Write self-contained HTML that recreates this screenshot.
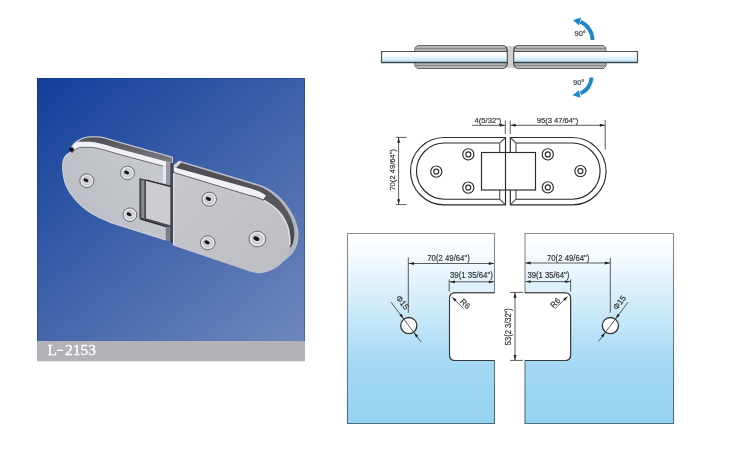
<!DOCTYPE html>
<html><head><meta charset="utf-8">
<style>
html,body{margin:0;padding:0;background:#fff;}
body{width:730px;height:450px;overflow:hidden;}
svg{display:block;will-change:transform;}
text{font-family:"Liberation Sans",sans-serif;}
</style></head>
<body>
<svg width="730" height="450" viewBox="0 0 730 450">
<defs>
<linearGradient id="bg" x1="37" y1="78" x2="274" y2="366" gradientUnits="userSpaceOnUse">
  <stop offset="0" stop-color="#103f9a"/>
  <stop offset="1" stop-color="#7087bc"/>
</linearGradient>
<linearGradient id="glass" x1="0" y1="0" x2="0" y2="1">
  <stop offset="0" stop-color="#ffffff"/>
  <stop offset="0.35" stop-color="#f8fcfe"/>
  <stop offset="1" stop-color="#bde1f1"/>
</linearGradient>
<linearGradient id="pane" x1="0" y1="233" x2="0" y2="424" gradientUnits="userSpaceOnUse">
  <stop offset="0" stop-color="#ffffff"/>
  <stop offset="0.115" stop-color="#f6fbfe"/>
  <stop offset="0.325" stop-color="#d8eefa"/>
  <stop offset="0.69" stop-color="#a3d9f4"/>
  <stop offset="1" stop-color="#95d2f2"/>
</linearGradient>
<linearGradient id="rimL" x1="0" y1="0" x2="0" y2="1">
  <stop offset="0" stop-color="#4e4e54"/>
  <stop offset="1" stop-color="#8c8c92"/>
</linearGradient>
<linearGradient id="rimR" x1="0" y1="0" x2="0" y2="1">
  <stop offset="0" stop-color="#4c4c52"/>
  <stop offset="0.6" stop-color="#5a5a60"/>
  <stop offset="1" stop-color="#3a3b42"/>
</linearGradient>
<linearGradient id="faceL" x1="166" y1="160" x2="70" y2="225" gradientUnits="userSpaceOnUse">
  <stop offset="0" stop-color="#c8cacf"/>
  <stop offset="1" stop-color="#babdc3"/>
</linearGradient>
<linearGradient id="faceR" x1="180" y1="175" x2="280" y2="270" gradientUnits="userSpaceOnUse">
  <stop offset="0" stop-color="#c6c8cd"/>
  <stop offset="1" stop-color="#bcbec4"/>
</linearGradient>
<linearGradient id="edge" x1="0" y1="233" x2="0" y2="424" gradientUnits="userSpaceOnUse">
  <stop offset="0" stop-color="#8e8e8e"/>
  <stop offset="1" stop-color="#4f6b80"/>
</linearGradient>
</defs>

<!-- ============ PHOTO ============ -->
<rect x="37" y="78" width="268" height="263" fill="url(#bg)"/>
<rect x="37" y="341" width="268" height="20.3" fill="#b2b3b6"/>
<path d="M37.5,341 L37.5,78.5 L304.5,78.5 L304.5,341" fill="none" stroke="#0c2a70" stroke-opacity="0.35" stroke-width="1"/>
<g style="font-family:'Liberation Serif',serif" font-size="15.5" fill="#fff" stroke="#fff" stroke-width="0.35">
  <text x="47.5" y="355" style="font-family:'Liberation Serif',serif">L</text>
  <text x="64.9" y="355" style="font-family:'Liberation Serif',serif">2153</text>
</g>
<rect x="57" y="349.6" width="6.3" height="1.3" fill="#fff"/>

<g id="hinge">
  <!-- LEFT PLATE -->
  <path d="M69.8,151.5 C70.5,147 72.5,144 74.9,142.3 C77,140.5 79,139 81.4,138.2 C84,137 87,136.4 89.7,136.2 L97.9,136.2 C101,136.5 103.5,137 106.1,137.8 C109,138.7 111.5,139.4 114.3,140.3 L173,156.8 L173,189 L166,189 L166,170 Z" fill="#c6c8d0"/>
  <path d="M78,142.5 C79,141 80.5,140 81.8,139.3 C84.3,138.2 87,137.6 89.7,137.4 L97.9,137.4 C101,137.7 103.5,138.2 106,139 C109,139.9 111.5,140.6 114.3,141.5 L172,157.8 L172,170 L166,170 Z" fill="url(#rimL)"/>
  <path d="M166,161 L172,162.6 L172,189 L166,189 Z" fill="#9a9ca4"/>
  <path d="M71.5,152 C72,148 73,145 74.5,143.5 C76.5,142.3 79,141.8 81.4,141.8 L89.7,141.8 C93,141.9 95.5,142.3 97.9,143 C101,143.8 103.5,144.4 106.1,145 L114.3,147.5 L166,161.5 L166,169 L114.3,153 L72,153 Z" fill="#f0f1f5"/>
  <path d="M72,153 C74,149.8 77,148 81.4,147.3 L89.7,147.3 C93,147.4 95.5,147.8 97.9,148.5 C101,149.2 103.5,149.8 106.1,150.5 L114.3,153 L166,167 L166,240.3 L115,223.9 C114.2,223.6 112.3,223.1 110.0,222.2 C107.7,221.3 104.1,219.7 101.1,218.3 C98.1,216.9 95.0,215.6 92.2,213.9 C89.4,212.2 86.8,210.2 84.4,208.3 C82.0,206.4 79.8,204.3 77.8,202.2 C75.8,200.1 73.9,197.8 72.2,195.6 C70.5,193.4 69.1,191.3 67.8,188.9 C66.5,186.5 65.4,183.7 64.6,181.0 C63.8,178.3 63.3,174.9 63.0,172.5 C62.7,170.1 62.6,168.5 62.6,166.5 C62.6,164.5 62.8,162.3 63.3,160.5 C63.8,158.7 64.6,156.9 65.8,155.5 C67.0,154.1 69.7,152.6 70.5,152.0 Z" fill="url(#faceL)"/>
  <path d="M72,153 C74,149.8 77,148 81.4,147.3 L89.7,147.3 C93,147.4 95.5,147.8 97.9,148.5 C101,149.2 103.5,149.8 106.1,150.5 L114.3,153 L166,167" fill="none" stroke="#5e5e66" stroke-width="0.9"/>
  <path d="M70.5,152.0 C69.7,152.6 67.0,154.1 65.8,155.5 C64.6,156.9 63.8,158.7 63.3,160.5 C62.8,162.3 62.6,164.5 62.6,166.5 C62.6,168.5 62.7,170.1 63.0,172.5 C63.3,174.9 63.8,178.3 64.6,181.0 C65.4,183.7 66.5,186.5 67.8,188.9 C69.1,191.3 70.5,193.4 72.2,195.6 C73.9,197.8 75.8,200.1 77.8,202.2 C79.8,204.3 82.0,206.4 84.4,208.3 C86.8,210.2 89.4,212.2 92.2,213.9 C95.0,215.6 98.1,216.9 101.1,218.3 C104.1,219.7 107.7,221.3 110.0,222.2 C112.3,223.1 114.2,223.6 115.0,223.9 L166,240" fill="none" stroke="#d0d2d7" stroke-width="1.1"/>
  <circle cx="71.6" cy="149.6" r="2.3" fill="#111"/>
  <!-- knuckle recess -->
  <path d="M139.3,177.9 L171,185.8 L171,227 L167.5,226 L139.3,218.3 Z" fill="#4a4b52"/>
  <path d="M141.3,180 L144.2,180.7 L144.2,218.5 L141.3,217.8 Z" fill="#8a8c93"/>
  <path d="M146,180.2 L171,186.6 L171,225.6 L146,218.2 Z" fill="#cbcdd2"/>
  <path d="M146,180.2 L171,186.6" stroke="#2a2b30" stroke-width="1.3" fill="none"/>
  <path d="M140,218.8 L168,227" stroke="#2a2b30" stroke-width="1.5" fill="none"/>
  <path d="M165.8,226.3 L171,227.5 L171,241.5 L165.8,240.3 Z" fill="#7d7f86"/>
  <path d="M163,165.5 L166,166.5 L166,183 L163,182.2 Z" fill="#e8e9ec"/>
  <line x1="171.2" y1="165" x2="171.2" y2="241" stroke="#3e3f45" stroke-width="1"/>
  <rect x="170.5" y="163" width="3.8" height="80" fill="#44454c"/>
  <!-- RIGHT PLATE -->
  <path d="M179.4,161.1 L250.0,182.3 C252.2,183.0 258.8,184.7 263.0,186.6 C267.2,188.5 271.3,190.7 275.0,193.5 C278.7,196.3 282.1,199.9 285.0,203.5 C287.9,207.1 290.5,211.2 292.5,215.0 C294.5,218.8 295.9,222.7 296.8,226.0 C297.7,229.3 298.1,231.8 298.0,235.0 C297.9,238.2 297.4,242.1 296.5,245.0 C295.6,247.9 294.0,250.3 292.5,252.5 C291.0,254.7 288.3,257.1 287.5,258.0 L279,264 L272,228 L174,171 L174,165 Z" fill="#b4b6be" stroke="#c8cad2" stroke-width="0.8"/>
  <path d="M179.5,162.2 L250.0,183.5 C252.0,184.2 258.2,185.8 262.0,187.6 C265.8,189.4 269.6,191.8 273.0,194.5 C276.4,197.2 279.8,200.6 282.5,204.0 C285.2,207.4 287.7,211.3 289.5,215.0 C291.3,218.7 292.7,222.7 293.5,226.0 C294.3,229.3 294.4,232.2 294.3,235.0 C294.2,237.8 293.2,241.7 293.0,243.0 C292,246 290,248 288,249 L272,228 L174,171 Z" fill="url(#rimR)"/>
  <path d="M173.5,166 L178.8,160.8 L181.5,162.5 L176,168 Z" fill="#d0d2d8"/>
  <path d="M174,167.2 L250,188.3 C256,190 262,192.5 266,195.5 L263,199.5 C258,197 254,196 250,195.6 L174,172.8 Z" fill="#f0f1f5"/>
  <path d="M174,172.5 L250.0,195.6 C252.0,196.2 258.3,197.5 262.0,199.2 C265.7,200.8 268.9,203.1 272.0,205.5 C275.1,207.9 278.1,210.4 280.5,213.5 C282.9,216.6 285.0,220.4 286.5,224.0 C288.0,227.6 288.9,231.5 289.5,235.0 C290.1,238.5 290.5,241.7 290.2,245.0 C289.9,248.3 288.9,251.9 287.5,255.0 C286.1,258.1 283.9,261.1 281.5,263.5 C279.1,265.9 276.1,267.9 273.0,269.5 C269.9,271.1 265.9,272.2 263.0,272.8 C260.1,273.4 258.1,273.1 255.9,272.9 C253.7,272.7 251.0,271.8 250.0,271.6 L173,245.5 L173,175 C173,173.5 173.4,172.8 174,172.5 Z" fill="url(#faceR)"/>
  <path d="M174,172.5 L250,195.6 C256,197 261,199 264,200.5" fill="none" stroke="#5e5e66" stroke-width="0.9"/>
  <path d="M264.0,200.3 C265.7,201.4 271.0,204.5 274.0,207.0 C277.0,209.5 279.8,212.3 282.0,215.5 C284.2,218.7 286.2,222.6 287.5,226.0 C288.8,229.4 289.2,232.8 289.6,236.0 C290.0,239.2 289.8,243.5 289.8,245.0" fill="none" stroke="#e6e7ea" stroke-width="1.4"/>
  <line x1="173.6" y1="173" x2="173.6" y2="245" stroke="#dfe0e4" stroke-width="1.2"/>

  <!-- screws -->
  <g stroke="#5a5c62" stroke-width="0.9" fill="#e6e7ea">
    <ellipse cx="86.8" cy="180.7" rx="7" ry="6.8"/>
    <ellipse cx="127.5" cy="172.9" rx="6.9" ry="6.8"/>
    <ellipse cx="129.9" cy="214.7" rx="6.9" ry="6.8"/>
    <ellipse cx="209.2" cy="199.2" rx="7.3" ry="7"/>
    <ellipse cx="207.8" cy="242.8" rx="7.3" ry="7"/>
    <ellipse cx="257.4" cy="239" rx="8.4" ry="7.8"/>
  </g>
  <g stroke="#b0b2b8" stroke-width="0.8" fill="#d6d7db">
    <ellipse cx="86.8" cy="180.7" rx="4.3" ry="4.1"/>
    <ellipse cx="127.5" cy="172.9" rx="4.2" ry="4.1"/>
    <ellipse cx="129.9" cy="214.7" rx="4.2" ry="4.1"/>
    <ellipse cx="209.2" cy="199.2" rx="4.5" ry="4.3"/>
    <ellipse cx="207.8" cy="242.8" rx="4.5" ry="4.3"/>
    <ellipse cx="257.4" cy="239" rx="5.2" ry="4.8"/>
  </g>
  <g fill="#16161a">
    <ellipse cx="86" cy="180.3" rx="2.6" ry="1.7" transform="rotate(25 86 180.3)"/>
    <ellipse cx="126.7" cy="172.5" rx="2.6" ry="1.7" transform="rotate(25 126.7 172.5)"/>
    <ellipse cx="129.1" cy="214.3" rx="2.6" ry="1.7" transform="rotate(25 129.1 214.3)"/>
    <ellipse cx="208.4" cy="198.8" rx="2.8" ry="1.8" transform="rotate(25 208.4 198.8)"/>
    <ellipse cx="207" cy="242.4" rx="2.8" ry="1.8" transform="rotate(25 207 242.4)"/>
    <ellipse cx="256.4" cy="238.6" rx="3.2" ry="2" transform="rotate(25 256.4 238.6)"/>
  </g>
</g>

<!-- ============ SIDE VIEW ============ -->
<g id="side">
  <path d="M417.3,45.5 L504.4,45.5 L507,48 L507,66 L504.4,68.5 L417.3,68.5 L414.8,66 L414.8,48 Z" fill="#b4b4b6" stroke="#6a6a6a" stroke-width="1"/>
  <path d="M516.6,45.5 L603.5,45.5 L606,48 L606,66 L603.5,68.5 L516.6,68.5 L514,66 L514,48 Z" fill="#b4b4b6" stroke="#6a6a6a" stroke-width="1"/>
  <g stroke="#858585" stroke-width="1">
    <line x1="416" y1="48.5" x2="506" y2="48.5"/>
    <line x1="515" y1="48.5" x2="605" y2="48.5"/>
    <line x1="416" y1="65.5" x2="506" y2="65.5"/>
    <line x1="515" y1="65.5" x2="605" y2="65.5"/>
  </g>
  <rect x="381.5" y="51.5" width="256" height="11" fill="url(#glass)"/>
  <path d="M381.5,62.5 L381.5,51.5 L637.5,51.5 L637.5,62.5" fill="none" stroke="#505052" stroke-width="1.2"/>
  <line x1="381" y1="62.5" x2="638" y2="62.5" stroke="#34444c" stroke-width="1.3"/>
  <path d="M505,46.3 Q507.3,47.5 507.3,50.5 L507.3,63.5 Q507.3,66.5 505,67.7 L516,67.7 Q513.7,66.5 513.7,63.5 L513.7,50.5 Q513.7,47.5 516,46.3 Z" fill="#cfcfd0"/>
  <path d="M505,46.3 Q507.3,47.5 507.3,50.5 L507.3,63.5 Q507.3,66.5 505,67.7 M516,46.3 Q513.7,47.5 513.7,50.5 L513.7,63.5 Q513.7,66.5 516,67.7" fill="none" stroke="#4a4a4a" stroke-width="1.1"/>
  <!-- arrows -->
  <g fill="none" stroke="#1e87c9" stroke-width="3.8">
    <path d="M592.5,40 A20,20 0 0 0 580.5,21.8"/>
    <path d="M591.5,77.5 A19,19 0 0 1 580.5,93.5"/>
  </g>
  <g fill="#1e87c9">
    <polygon points="572.9,20.3 581,17.5 579.2,25.4"/>
    <polygon points="572.5,95.2 579,90.3 580.4,97.8"/>
  </g>
  <g font-size="7.5" fill="#3a3a3a" stroke="#3a3a3a" stroke-width="0.18">
    <text x="574.5" y="36.2">90°</text>
    <text x="573" y="85">90°</text>
  </g>
</g>

<!-- ============ TOP VIEW ============ -->
<g id="top" fill="none" stroke="#2a2a2a" stroke-width="1.15">
  <!-- outer left half -->
  <path d="M505.5,137.5 L444.2,137.5 A33.7,33.7 0 0 0 444.2,204.9 L505.5,204.9 Z"/>
  <!-- outer right half -->
  <path d="M510.3,137.5 L572.4,137.5 A33.7,33.7 0 0 1 572.4,204.9 L510.3,204.9 Z"/>
  <!-- inner left -->
  <path d="M499.7,143 L444.6,143 A28.1,28.1 0 0 0 444.6,199.2 L499.7,199.2"/>
  <path d="M499.7,143 L505,138 M499.7,199.2 L505,204.4 M499.7,143 L499.7,152.5 M499.7,190 L499.7,199.2" stroke="#555"/>
  <!-- inner right -->
  <path d="M516,143 L572,143 A28.1,28.1 0 0 1 572,199.2 L516,199.2"/>
  <path d="M516,143 L510.8,138 M516,199.2 L510.8,204.4 M516,143 L516,152.5 M516,190 L516,199.2" stroke="#555"/>
  <!-- center block -->
  <rect x="481.5" y="152.5" width="54" height="37.5" fill="#fff"/>
  <line x1="505.5" y1="152.5" x2="505.5" y2="190"/>
  <!-- holes -->
  <g>
    <circle cx="436.3" cy="171.6" r="5.6"/><circle cx="436.3" cy="171.6" r="2.5"/>
    <circle cx="468.3" cy="154.4" r="5.6"/><circle cx="468.3" cy="154.4" r="2.5"/>
    <circle cx="468.3" cy="187.6" r="5.6"/><circle cx="468.3" cy="187.6" r="2.5"/>
    <circle cx="547.8" cy="154.4" r="5.6"/><circle cx="547.8" cy="154.4" r="2.5"/>
    <circle cx="547.8" cy="187.4" r="5.6"/><circle cx="547.8" cy="187.4" r="2.5"/>
    <circle cx="580.4" cy="171.1" r="5.6"/><circle cx="580.4" cy="171.1" r="2.5"/>
  </g>
  <!-- dimension lines -->
  <g stroke="#333" stroke-width="0.8">
    <line x1="505.3" y1="120.5" x2="505.3" y2="134"/>
    <line x1="510.2" y1="120.5" x2="510.2" y2="134"/>
    <line x1="472" y1="125.3" x2="505" y2="125.3"/>
    <line x1="510.5" y1="125.3" x2="605" y2="125.3"/>
    <line x1="605.2" y1="120" x2="605.2" y2="149.6"/>
    <line x1="398.6" y1="137.4" x2="398.6" y2="204.6"/>
    <line x1="396" y1="137.4" x2="406.6" y2="137.4"/>
    <line x1="396" y1="204.6" x2="406.6" y2="204.6"/>
  </g>
  <g fill="#222" stroke="none">
    <polygon points="505.0,125.3 499.8,123.8 499.8,126.8"/>
    <polygon points="510.5,125.3 515.7,126.8 515.7,123.8"/>
    <polygon points="605.0,125.3 599.8,123.8 599.8,126.8"/>
    <polygon points="398.6,137.6 397.2,142.8 400.1,142.8"/>
    <polygon points="398.6,204.4 400.1,199.2 397.2,199.2"/>
  </g>
  <g fill="#333" stroke="#333" stroke-width="0.18" font-size="7.6">
    <text x="474.6" y="123.3">4(5/32")</text>
    <text x="536.7" y="123.3">95(3 47/64")</text>
    <text transform="translate(394.6,190.6) rotate(-90)">70(2 49/64")</text>
  </g>
</g>

<!-- ============ GLASS PANES ============ -->
<g id="panes">
  <path d="M347.5,233.5 L494.5,233.5 L494.5,292.8 L455,292.8 Q449.5,292.8 449.5,298.3 L449.5,355 Q449.5,360.5 455,360.5 L494.5,360.5 L494.5,423.5 L347.5,423.5 Z" fill="url(#pane)" stroke="url(#edge)" stroke-width="1.1"/>
  <path d="M525,233.5 L673.5,233.5 L673.5,423.5 L525,423.5 L525,360.5 L565,360.5 Q570.6,360.5 570.6,355 L570.6,298.3 Q570.6,292.8 565,292.8 L525,292.8 Z" fill="url(#pane)" stroke="url(#edge)" stroke-width="1.1"/>
  <g fill="none" stroke="#3a3a3a" stroke-width="1.1">
    <path d="M494.5,292.8 L455,292.8 Q449.5,292.8 449.5,298.3 L449.5,355 Q449.5,360.5 455,360.5 L494.5,360.5"/>
    <path d="M525,292.8 L565,292.8 Q570.6,292.8 570.6,298.3 L570.6,355 Q570.6,360.5 565,360.5 L525,360.5"/>
  </g>
  <!-- hole circles -->
  <circle cx="408.8" cy="325.6" r="8.1" fill="#fff" stroke="#333" stroke-width="1.3"/>
  <circle cx="610.4" cy="325.6" r="8.1" fill="#fff" stroke="#333" stroke-width="1.3"/>
  <g stroke="#333" stroke-width="0.8" fill="none">
    <!-- left pane dims -->
    <line x1="408.3" y1="257.4" x2="408.3" y2="312.7"/>
    <line x1="408.5" y1="263.5" x2="494" y2="263.5"/>
    <line x1="449.2" y1="279.5" x2="449.2" y2="291.5"/>
    <line x1="449.5" y1="281.8" x2="494" y2="281.8"/>
    <line x1="391.1" y1="302.2" x2="421.1" y2="342"/>
    <line x1="452.5" y1="297.5" x2="463.7" y2="308.5"/>
    <!-- right pane dims -->
    <line x1="610.3" y1="257.6" x2="610.3" y2="312.6"/>
    <line x1="525.5" y1="263" x2="610" y2="263"/>
    <line x1="570.6" y1="279.5" x2="570.6" y2="291.5"/>
    <line x1="525.5" y1="281.6" x2="570.3" y2="281.6"/>
    <line x1="628" y1="302.2" x2="598.7" y2="341.3"/>
    <line x1="567.2" y1="296.8" x2="555.3" y2="308.5"/>
    <!-- middle 53 -->
    <line x1="515" y1="292.4" x2="515" y2="360.4"/>
    <line x1="510" y1="292.4" x2="523" y2="292.4"/>
    <line x1="510" y1="360.4" x2="523" y2="360.4"/>
  </g>
  <g fill="#222">
    <polygon points="408.8,263.5 414.0,264.9 414.0,262.1"/>
    <polygon points="494.0,263.5 488.8,262.1 488.8,264.9"/>
    <polygon points="449.7,281.8 454.9,283.2 454.9,280.4"/>
    <polygon points="494.0,281.8 488.8,280.4 488.8,283.2"/>
    <polygon points="525.5,263.0 530.7,264.4 530.7,261.6"/>
    <polygon points="610.0,263.0 604.8,261.6 604.8,264.4"/>
    <polygon points="525.5,281.6 530.7,283.1 530.7,280.2"/>
    <polygon points="570.3,281.6 565.1,280.2 565.1,283.1"/>
    <polygon points="515.0,292.6 513.5,297.8 516.5,297.8"/>
    <polygon points="515.0,360.2 516.5,355.0 513.5,355.0"/>
    <polygon points="403.6,318.7 401.6,313.7 399.3,315.4"/>
    <polygon points="414.0,332.5 416.0,337.5 418.3,335.8"/>
    <polygon points="615.6,318.7 619.9,315.4 617.6,313.7"/>
    <polygon points="605.2,332.5 600.9,335.8 603.2,337.5"/>
    <polygon points="451.9,296.9 454.6,301.6 456.6,299.5"/>
    <polygon points="567.8,296.2 563.1,298.8 565.1,300.9"/>
  </g>
  <g fill="#333" stroke="#333" stroke-width="0.18" font-size="8.2">
    <text x="427.3" y="261.2" textLength="42.5" lengthAdjust="spacingAndGlyphs">70(2 49/64")</text>
    <text x="449.9" y="278.4" textLength="43" lengthAdjust="spacingAndGlyphs">39(1 35/64")</text>
    <text x="547" y="261" textLength="42.4" lengthAdjust="spacingAndGlyphs">70(2 49/64")</text>
    <text x="527.4" y="277.8" textLength="42" lengthAdjust="spacingAndGlyphs">39(1 35/64")</text>
    <text transform="translate(511.2,345.2) rotate(-90)" textLength="37" lengthAdjust="spacingAndGlyphs">53(2 3/32")</text>
    <text transform="translate(459.5,302) rotate(45)">R6</text>
    <text transform="translate(553.5,308.5) rotate(-45)">R6</text>
    <text transform="translate(395.6,298) rotate(53)">Φ15</text>
    <text transform="translate(617,310.5) rotate(-53)">Φ15</text>
  </g>
</g>
</svg>
</body></html>
